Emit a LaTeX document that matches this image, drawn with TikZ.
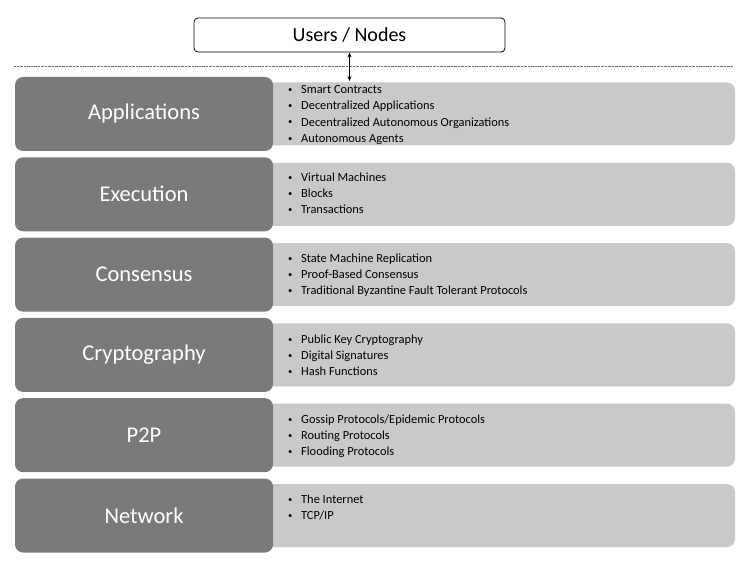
\documentclass[tikz,border=0pt]{standalone}
\usepackage{fontspec}
\usepackage{graphicx}
\setmainfont{Carlito}
\usetikzlibrary{arrows.meta}
\definecolor{darkbox}{RGB}{122,122,122}
\definecolor{lightbox}{RGB}{201,201,201}
\definecolor{sepline}{RGB}{110,110,110}
\tikzset{
  layerbox/.style={fill=darkbox, draw=none, rounded corners=8pt},
  itembox/.style={fill=lightbox, draw=none, rounded corners=8pt},
  layertext/.style={text=white, font=\fontsize{22.5}{26}\selectfont, inner sep=0pt},
  itemlist/.style={anchor=north west, align=left, inner sep=0pt, font=\fontsize{12.4}{16.2}\selectfont},
  topbox/.style={draw=black, fill=white, rounded corners=4pt, line width=0.8pt, minimum width=311pt, minimum height=34pt, font=\fontsize{20}{23}\selectfont},
}
\newcommand{\bul}[1]{\makebox[13pt][l]{\raisebox{1.2pt}{\scalebox{0.7}{\textbullet}}}#1}
\begin{document}
\begin{tikzpicture}[x=1pt,y=-1pt]
\useasboundingbox (0,0) rectangle (744,564);
% top
\node[topbox] (users) at (349.5,35) {Users / Nodes};
\coordinate (sepL) at (14,66);
\coordinate (sepR) at (733,66);
\draw[sepline, line width=0.7pt, dash pattern=on 0.7pt off 0.7pt] (sepL) -- (sepR);
% layers
\foreach \name/\lab/\ytop in {app/Applications/77, exe/Execution/157.3, con/Consensus/237.6, cry/Cryptography/317.9, ptp/P2P/398.2, net/Network/478.5}{
  \path[itembox] (265,\ytop+5.5) rectangle (735,\ytop+68.5);
  \path[layerbox] (15,\ytop) rectangle (273,\ytop+74);
  \node[layertext] (\name) at (144,\ytop+37) {\lab};
}
\coordinate (arrowend) at (349.5,81);
\draw[{Stealth[length=5pt,width=4pt]}-{Stealth[length=5pt,width=4pt]}, line width=0.7pt] (users.south) -- (arrowend);
% lists
\node[itemlist] (applist) at (288,85.5) {\bul{Smart Contracts}\\\bul{Decentralized Applications}\\\bul{Decentralized Autonomous Organizations}\\\bul{Autonomous Agents}};
\node[itemlist] (exelist) at (288,172.5) {\bul{Virtual Machines}\\\bul{Blocks}\\\bul{Transactions}};
\node[itemlist] (conlist) at (288,253.5) {\bul{State Machine Replication}\\\bul{Proof-Based Consensus}\\\bul{Traditional Byzantine Fault Tolerant Protocols}};
\node[itemlist] (crylist) at (288,334.5) {\bul{Public Key Cryptography}\\\bul{Digital Signatures}\\\bul{Hash Functions}};
\node[itemlist] (ptplist) at (288,414.5) {\bul{Gossip Protocols/Epidemic Protocols}\\\bul{Routing Protocols}\\\bul{Flooding Protocols}};
\node[itemlist] (netlist) at (288,494.5) {\bul{The Internet}\\\bul{TCP/IP}};
\end{tikzpicture}
\end{document}
